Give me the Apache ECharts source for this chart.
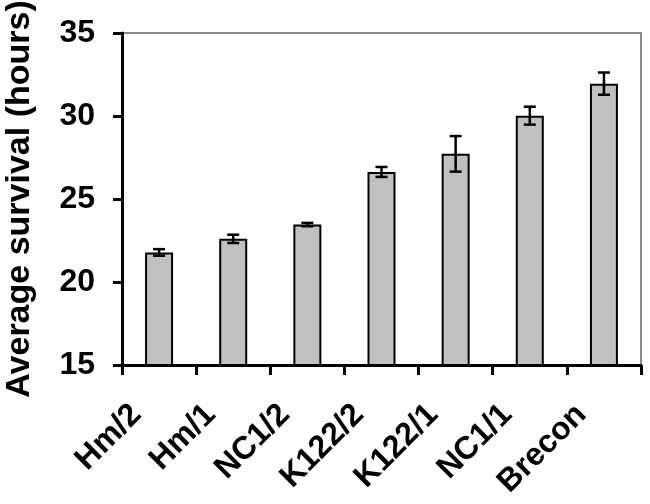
<!DOCTYPE html>
<html>
<head>
<meta charset="utf-8">
<script src="https://cdn.jsdelivr.net/npm/echarts@6/dist/echarts.min.js"></script>
<style>html,body{margin:0;padding:0;background:#fff}#c{width:650px;height:504px}</style>
</head>
<body>
<div id="c"></div>
<script>
var categories = ['Hm/2', 'Hm/1', 'NC1/2', 'K122/2', 'K122/1', 'NC1/1', 'Brecon'];
var means = [21.78, 22.6, 23.46, 26.63, 27.72, 30.02, 31.95];
var errors = [0.2, 0.25, 0.1, 0.3, 1.07, 0.54, 0.67];
var yTicks = [15, 20, 25, 30, 35];
var yAxisTitle = 'Average survival (hours)';

var FONT = '"Liberation Sans", Arial, sans-serif';
var chart = echarts.init(document.getElementById('c'));
var errData = categories.map(function (c, i) { return [i, means[i], errors[i]]; });

chart.setOption({
  animation: false,
  grid: { left: 122, right: 9, top: 33, bottom: 139, containLabel: false, outerBoundsMode: 'none', show: true, borderColor: '#8a8a8a', borderWidth: 2, backgroundColor: 'transparent' },
  xAxis: {
    type: 'category',
    data: categories,
    axisLine: { lineStyle: { color: '#000', width: 3 } },
    axisTick: { show: true, length: 10, lineStyle: { color: '#000', width: 3 } },
    axisLabel: { rotate: 45, margin: 22, padding: [0, 32, 0, 0], color: '#000', fontFamily: FONT, fontWeight: 'bold', fontSize: 32, interval: 0 }
  },
  yAxis: {
    type: 'value',
    min: yTicks[0], max: yTicks[yTicks.length - 1], interval: 5,
    name: yAxisTitle,
    nameLocation: 'middle',
    nameGap: 85,
    nameRotate: 90,
    nameTextStyle: { color: '#000', fontFamily: FONT, fontWeight: 'bold', fontSize: 34 },
    axisLine: { show: true, lineStyle: { color: '#000', width: 3 } },
    axisTick: { show: true, length: 9, lineStyle: { color: '#000', width: 3 } },
    axisLabel: { margin: 27, color: '#000', fontFamily: FONT, fontWeight: 'bold', fontSize: 32 },
    splitLine: { show: false }
  },
  series: [
    {
      type: 'bar',
      data: means,
      barWidth: 28,
      itemStyle: { color: '#c0c0c0', borderColor: '#000', borderWidth: 2 }
    },
    {
      type: 'custom',
      data: errData,
      z: 10,
      renderItem: function (params, api) {
        var i = api.value(0), m = api.value(1), e = api.value(2);
        var top = api.coord([i, m + e]);
        var bot = api.coord([i, m - e]);
        var hw = 6;
        var st = { stroke: '#000', lineWidth: 2.5 };
        return {
          type: 'group',
          children: [
            { type: 'line', shape: { x1: top[0], y1: top[1], x2: bot[0], y2: bot[1] }, style: st },
            { type: 'line', shape: { x1: top[0] - hw, y1: top[1], x2: top[0] + hw, y2: top[1] }, style: st },
            { type: 'line', shape: { x1: bot[0] - hw, y1: bot[1], x2: bot[0] + hw, y2: bot[1] }, style: st }
          ]
        };
      }
    }
  ]
});
</script>
</body>
</html>
